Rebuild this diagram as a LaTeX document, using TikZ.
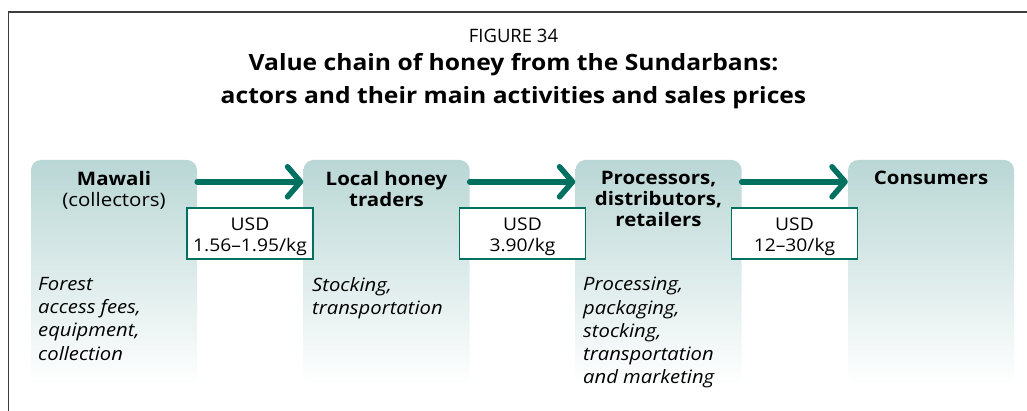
\documentclass[tikz,border=0pt]{standalone}
\usepackage{fontspec}
\setmainfont{Open Sans}[FakeStretch=1.1]
\newfontfamily\plainfont{Open Sans}
\usetikzlibrary{arrows.meta}
\definecolor{tealA}{RGB}{0,112,96}
\definecolor{boxtop}{RGB}{185,215,213}
\definecolor{framegray}{RGB}{60,60,60}
\newcommand{\pricestrut}{\rule{0pt}{19pt}}
\begin{document}
\begin{tikzpicture}[x=1pt,y=-1pt,
  actor/.style={rectangle, rounded corners=10pt, minimum width=166pt, minimum height=225pt,
    top color=boxtop, bottom color=white, inner sep=0pt},
  head/.style={anchor=north, align=center, inner sep=0pt, font=\fontsize{18.6}{21}\selectfont\bfseries},
  act/.style={anchor=north west, align=left, inner sep=0pt, font=\fontsize{18.4}{23.3}\selectfont\itshape},
  price/.style={draw=tealA, line width=1.6pt, fill=white, minimum width=126pt, minimum height=51pt,
    inner sep=0pt, align=center, font=\fontsize{17.5}{21}\selectfont},
  flow/.style={draw=tealA, line width=5.5pt, line cap=round, -{Straight Barb[length=13pt,width=30pt,round]}},
  frameline/.style={draw=framegray, line width=1.5pt}
]
\useasboundingbox (0,0) rectangle (1027,411);
\draw[frameline] (1027,12) -- (8.5,12) -- (8.5,411);

\node[anchor=north, inner sep=0pt, font=\fontsize{18.5}{20}\selectfont\plainfont] (fig) at (513.5,29) {FIGURE 34};
\node[anchor=north, inner sep=0pt, align=center, font=\fontsize{22.4}{33}\selectfont\bfseries] (title) at (513.5,53)
  {Value chain of honey from the Sundarbans:\\actors and their main activities and sales prices};

\node[actor] (b1) at (114,272.5) {};
\node[actor] (b2) at (386.5,272.5) {};
\node[actor] (b3) at (658.5,272.5) {};
\node[actor] (b4) at (931,272.5) {};

\node[head] (h1) at (114,171) {Mawali\\\mdseries(collectors)};
\node[head] (h2) at (386.5,171) {Local honey\\traders};
\node[head] (h3) at (658.5,171) {Processors,\\distributors,\\retailers};
\node[head] (h4) at (931,171) {Consumers};

\draw[flow] ([yshift=-22pt]b1.north east) -- ([yshift=-22pt]b2.north west);
\draw[flow] ([yshift=-22pt]b2.north east) -- ([yshift=-22pt]b3.north west);
\draw[flow] ([yshift=-22pt]b3.north east) -- ([yshift=-22pt]b4.north west);

\node[price] (p1) at (250,233.5) {\pricestrut USD\\1.56–1.95/kg};
\node[price] (p2) at (522.5,233.5) {\pricestrut USD\\3.90/kg};
\node[price] (p3) at (794.5,233.5) {\pricestrut USD\\12–30/kg};

\node[act] (a1) at (38,277) {Forest\\access fees,\\equipment,\\collection};
\node[act] (a2) at (312,277) {Stocking,\\transportation};
\node[act] (a3) at (583,277) {Processing,\\packaging,\\stocking,\\transportation\\and marketing};
\end{tikzpicture}
\end{document}
